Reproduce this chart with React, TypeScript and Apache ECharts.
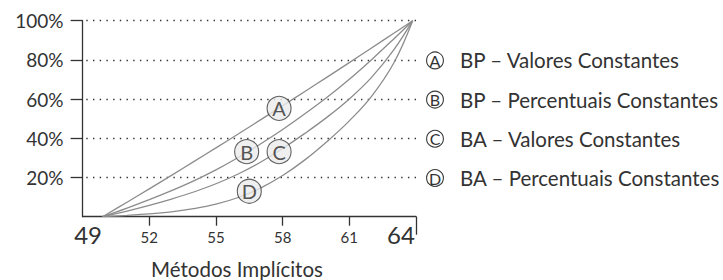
import React, { useEffect, useRef } from "react";
import * as echarts from "echarts";

// ---- data ----
const xValues = [49.9, 51, 52, 53, 54, 55, 56, 57, 58, 59, 60, 61, 62, 63, 63.85];
const curveA = [0, 7.4, 14.2, 21.1, 28.1, 35.1, 42.2, 49.4, 56.6, 63.9, 71.2, 78.6, 86.1, 93.6, 100];
const curveB = [0, 4.4, 8.7, 13.3, 18.3, 23.9, 30.2, 37.1, 44.5, 52.5, 60.9, 70.1, 80.1, 90.7, 100];
const curveC = [0, 2.9, 5.8, 9.0, 12.6, 16.8, 21.8, 27.8, 34.8, 42.5, 50.8, 60.1, 71.1, 85.1, 100];
const curveD = [0, 0.65, 1.4, 2.5, 4.1, 6.4, 9.8, 14.6, 21.0, 29.0, 38.4, 48.9, 61.4, 78.4, 100];
const curveLetters = ["A", "B", "C", "D"];
const letterX = [57.84, 56.38, 57.84, 56.5];
const letterY = [55.3, 33.2, 33.2, 13.0];
const legendTexts = [
  "BP – Valores Constantes",
  "BP – Percentuais Constantes",
  "BA – Valores Constantes",
  "BA – Percentuais Constantes",
];
const legendRowValues = [80, 60, 40, 20];
const xTickValues = [52, 55, 58, 61];
const xLabelValues = [49, 52, 55, 58, 61, 64];
const yTickValues = [20, 40, 60, 80, 100];
const xAxisTitle = "Métodos Implícitos";

const FONT = "Lato, 'Noto Sans', sans-serif";
const INK = "#333";

export default function App() {
  const ref = useRef<HTMLDivElement>(null);
  useEffect(() => {
    if (!ref.current) return;
    const chart = echarts.init(ref.current, undefined, { renderer: "svg" });
    const gridLeft = 82.6;
    const gridTop = 20.7;
    const gridW = 333.4;
    const gridH = 196;
    const curves = [curveA, curveB, curveC, curveD];

    const lineSeries = curves.map((c, k) => ({
      type: "line",
      name: curveLetters[k],
      data: xValues.map((x, i) => [x, c[i]]),
      showSymbol: false,
      smooth: 0.4,
      silent: true,
      lineStyle: { color: "#8c8c8c", width: 1.3 },
      z: 2,
    }));

    const letterSeries = {
      type: "scatter",
      data: curveLetters.map((l, i) => ({ value: [letterX[i], letterY[i]], name: l })),
      symbol: "circle",
      symbolSize: 24,
      silent: true,
      itemStyle: { color: "#ebebeb", borderColor: "#3a3a3a", borderWidth: 1.1 },
      label: {
        show: true,
        position: "inside",
        formatter: (p: any) => p.name,
        fontFamily: FONT,
        fontSize: 20,
        color: "#2a2a2a",
      },
      z: 5,
    };

    const legendGraphics: any[] = [];
    legendRowValues.forEach((v, i) => {
      const y = gridTop + ((100 - v) / 100) * gridH;
      legendGraphics.push({
        type: "circle",
        shape: { cx: 435, cy: y + 0.5, r: 8.4 },
        style: { fill: "#fff", stroke: "#3a3a3a", lineWidth: 1.1 },
      });
      legendGraphics.push({
        type: "text",
        x: 435,
        y: y + 0.5,
        style: {
          text: curveLetters[i],
          fontFamily: FONT,
          fontSize: 16,
          fill: INK,
          align: "center",
          verticalAlign: "middle",
        },
      });
      legendGraphics.push({
        type: "text",
        x: 460,
        y: y + 0.5,
        style: {
          text: legendTexts[i],
          fontFamily: FONT,
          fontSize: 20.5,
          fill: INK,
          align: "left",
          verticalAlign: "middle",
        },
      });
    });
    legendGraphics.push({
      type: "text",
      x: 237,
      y: 269,
      style: {
        text: xAxisTitle,
        fontFamily: FONT,
        fontSize: 20.5,
        fill: INK,
        align: "center",
        verticalAlign: "middle",
      },
    });

    const axisLine = { show: true, lineStyle: { color: INK, width: 1.3 } };

    chart.setOption({
      animation: false,
      backgroundColor: "#fff",
      grid: {
        left: gridLeft,
        top: gridTop,
        width: gridW,
        height: gridH,
        containLabel: false,
        outerBoundsMode: "none",
      },
      xAxis: [
        {
          type: "value",
          min: 49,
          max: 64,
          axisLine,
          splitLine: { show: false },
          axisTick: {
            show: true,
            customValues: xTickValues,
            length: 9,
            lineStyle: { color: INK, width: 1.3 },
          },
          axisLabel: {
            customValues: xLabelValues,
            margin: 6,
            formatter: (v: number) =>
              v === 49 ? `{l|${v}}` : v === 64 ? `{r|${v}}` : `{s|${v}}`,
            rich: {
              s: { fontFamily: FONT, fontSize: 15, color: INK, padding: [7, 0, 0, 0] },
              l: { fontFamily: FONT, fontSize: 24, color: INK, padding: [0, 0, 0, 11] },
              r: { fontFamily: FONT, fontSize: 24, color: INK, padding: [0, 30, 0, 0] },
            },
          },
        },
        {
          type: "value",
          min: 49,
          max: 64,
          position: "bottom",
          axisLine: { show: false },
          splitLine: { show: false },
          axisLabel: { show: false },
          axisTick: {
            show: true,
            customValues: [64],
            length: 18,
            lineStyle: { color: INK, width: 1.3 },
          },
        },
      ],
      yAxis: {
        type: "value",
        min: 0,
        max: 100,
        interval: 20,
        axisLine,
        axisTick: {
          show: true,
          customValues: yTickValues,
          length: 12,
          lineStyle: { color: INK, width: 1.3 },
        },
        axisLabel: {
          customValues: yTickValues,
          formatter: "{value}%",
          margin: 19,
          fontFamily: FONT,
          fontSize: 19,
          color: INK,
        },
        splitLine: {
          show: true,
          lineStyle: { type: [1.4, 5.3], dashOffset: 2.6, color: "#333", width: 1.4 },
        },
      },
      series: [...lineSeries, letterSeries],
      graphic: legendGraphics,
    });
    return () => chart.dispose();
  }, []);
  return (
    <div
      ref={ref}
      style={{ position: "absolute", left: 0, top: 0, width: 723, height: 280, background: "#fff" }}
    />
  );
}
